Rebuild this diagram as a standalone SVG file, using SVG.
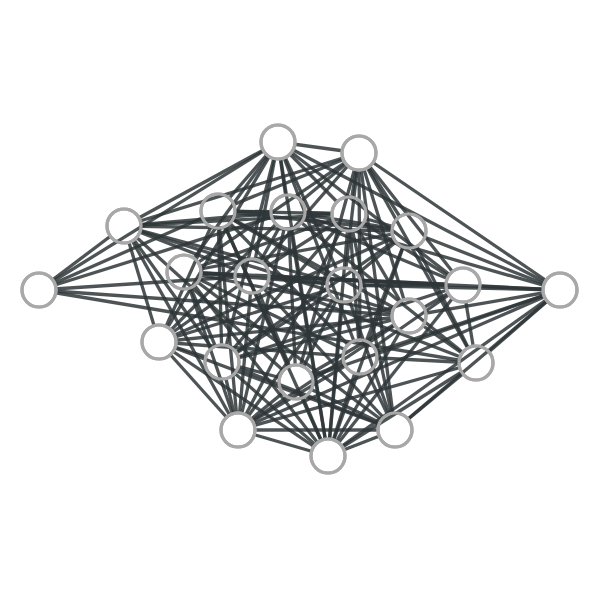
<svg xmlns="http://www.w3.org/2000/svg" width="600" height="600" viewBox="0 0 600 600">
<style>
.e line{stroke:#2f3638;stroke-width:3.3;stroke-opacity:0.85;fill:none}
.n circle{fill:#ffffff;stroke:#a8a8a8;stroke-width:3.2}
.rim circle{fill:none;stroke:#a8a8a8;stroke-width:3.2}
.mb{fill:#ffffff}
.mh{fill:#000000}
</style>
<defs>
<mask id="m0" maskUnits="userSpaceOnUse" x="0" y="0" width="600" height="600"><rect class="mb" width="600" height="600"/><circle class="mh" cx="39" cy="290" r="18.5"/></mask>
<mask id="m1" maskUnits="userSpaceOnUse" x="0" y="0" width="600" height="600"><rect class="mb" width="600" height="600"/><circle class="mh" cx="124" cy="226" r="18.5"/></mask>
<mask id="m2" maskUnits="userSpaceOnUse" x="0" y="0" width="600" height="600"><rect class="mb" width="600" height="600"/><circle class="mh" cx="278" cy="142" r="18.5"/></mask>
<mask id="m3" maskUnits="userSpaceOnUse" x="0" y="0" width="600" height="600"><rect class="mb" width="600" height="600"/><circle class="mh" cx="359" cy="153" r="18.5"/></mask>
<mask id="m4" maskUnits="userSpaceOnUse" x="0" y="0" width="600" height="600"><rect class="mb" width="600" height="600"/><circle class="mh" cx="218" cy="211" r="18.5"/></mask>
<mask id="m5" maskUnits="userSpaceOnUse" x="0" y="0" width="600" height="600"><rect class="mb" width="600" height="600"/><circle class="mh" cx="288" cy="212" r="18.5"/></mask>
<mask id="m6" maskUnits="userSpaceOnUse" x="0" y="0" width="600" height="600"><rect class="mb" width="600" height="600"/><circle class="mh" cx="349" cy="214" r="18.5"/></mask>
<mask id="m7" maskUnits="userSpaceOnUse" x="0" y="0" width="600" height="600"><rect class="mb" width="600" height="600"/><circle class="mh" cx="409" cy="231" r="18.5"/></mask>
<mask id="m8" maskUnits="userSpaceOnUse" x="0" y="0" width="600" height="600"><rect class="mb" width="600" height="600"/><circle class="mh" cx="184" cy="272" r="18.5"/></mask>
<mask id="m9" maskUnits="userSpaceOnUse" x="0" y="0" width="600" height="600"><rect class="mb" width="600" height="600"/><circle class="mh" cx="252" cy="276" r="18.5"/></mask>
<mask id="m10" maskUnits="userSpaceOnUse" x="0" y="0" width="600" height="600"><rect class="mb" width="600" height="600"/><circle class="mh" cx="344" cy="285" r="18.5"/></mask>
<mask id="m11" maskUnits="userSpaceOnUse" x="0" y="0" width="600" height="600"><rect class="mb" width="600" height="600"/><circle class="mh" cx="463" cy="285" r="18.5"/></mask>
<mask id="m12" maskUnits="userSpaceOnUse" x="0" y="0" width="600" height="600"><rect class="mb" width="600" height="600"/><circle class="mh" cx="560" cy="290" r="18.5"/></mask>
<mask id="m13" maskUnits="userSpaceOnUse" x="0" y="0" width="600" height="600"><rect class="mb" width="600" height="600"/><circle class="mh" cx="409" cy="316" r="18.5"/></mask>
<mask id="m14" maskUnits="userSpaceOnUse" x="0" y="0" width="600" height="600"><rect class="mb" width="600" height="600"/><circle class="mh" cx="159" cy="342" r="18.5"/></mask>
<mask id="m15" maskUnits="userSpaceOnUse" x="0" y="0" width="600" height="600"><rect class="mb" width="600" height="600"/><circle class="mh" cx="222" cy="362" r="18.5"/></mask>
<mask id="m16" maskUnits="userSpaceOnUse" x="0" y="0" width="600" height="600"><rect class="mb" width="600" height="600"/><circle class="mh" cx="296" cy="382" r="18.5"/></mask>
<mask id="m17" maskUnits="userSpaceOnUse" x="0" y="0" width="600" height="600"><rect class="mb" width="600" height="600"/><circle class="mh" cx="360" cy="357" r="18.5"/></mask>
<mask id="m18" maskUnits="userSpaceOnUse" x="0" y="0" width="600" height="600"><rect class="mb" width="600" height="600"/><circle class="mh" cx="476" cy="363" r="18.5"/></mask>
<mask id="m19" maskUnits="userSpaceOnUse" x="0" y="0" width="600" height="600"><rect class="mb" width="600" height="600"/><circle class="mh" cx="238" cy="430" r="18.5"/></mask>
<mask id="m20" maskUnits="userSpaceOnUse" x="0" y="0" width="600" height="600"><rect class="mb" width="600" height="600"/><circle class="mh" cx="328" cy="456" r="18.5"/></mask>
<mask id="m21" maskUnits="userSpaceOnUse" x="0" y="0" width="600" height="600"><rect class="mb" width="600" height="600"/><circle class="mh" cx="395" cy="430" r="18.5"/></mask>
</defs>
<rect width="600" height="600" fill="#ffffff"/>
<g id="nodes" class="n">
<g id="n0"><circle cx="39" cy="290" r="17"/></g>
<g id="n1"><circle cx="124" cy="226" r="17"/></g>
<g id="n2"><circle cx="278" cy="142" r="17"/></g>
<g id="n3"><circle cx="359" cy="153" r="17"/></g>
<g id="n4"><circle cx="218" cy="211" r="17"/></g>
<g id="n5"><circle cx="288" cy="212" r="17"/></g>
<g id="n6"><circle cx="349" cy="214" r="17"/></g>
<g id="n7"><circle cx="409" cy="231" r="17"/></g>
<g id="n8"><circle cx="184" cy="272" r="17"/></g>
<g id="n9"><circle cx="252" cy="276" r="17"/></g>
<g id="n10"><circle cx="344" cy="285" r="17"/></g>
<g id="n11"><circle cx="463" cy="285" r="17"/></g>
<g id="n12"><circle cx="560" cy="290" r="17"/></g>
<g id="n13"><circle cx="409" cy="316" r="17"/></g>
<g id="n14"><circle cx="159" cy="342" r="17"/></g>
<g id="n15"><circle cx="222" cy="362" r="17"/></g>
<g id="n16"><circle cx="296" cy="382" r="17"/></g>
<g id="n17"><circle cx="360" cy="357" r="17"/></g>
<g id="n18"><circle cx="476" cy="363" r="17"/></g>
<g id="n19"><circle cx="238" cy="430" r="17"/></g>
<g id="n20"><circle cx="328" cy="456" r="17"/></g>
<g id="n21"><circle cx="395" cy="430" r="17"/></g>
</g>
<g id="edges" class="e">
<g mask="url(#m0)">
<line x1="39" y1="290" x2="124" y2="226" mask="url(#m1)"/>
<line x1="39" y1="290" x2="278" y2="142" mask="url(#m2)"/>
<line x1="39" y1="290" x2="218" y2="211" mask="url(#m4)"/>
<line x1="39" y1="290" x2="288" y2="212" mask="url(#m5)"/>
<line x1="39" y1="290" x2="252" y2="276" mask="url(#m9)"/>
<line x1="39" y1="290" x2="409" y2="316" mask="url(#m13)"/>
<line x1="39" y1="290" x2="476" y2="363" mask="url(#m18)"/>
</g>
<g mask="url(#m1)">
<line x1="124" y1="226" x2="278" y2="142" mask="url(#m2)"/>
<line x1="124" y1="226" x2="359" y2="153" mask="url(#m3)"/>
<line x1="124" y1="226" x2="288" y2="212" mask="url(#m5)"/>
<line x1="124" y1="226" x2="349" y2="214" mask="url(#m6)"/>
<line x1="124" y1="226" x2="409" y2="231" mask="url(#m7)"/>
<line x1="124" y1="226" x2="252" y2="276" mask="url(#m9)"/>
<line x1="124" y1="226" x2="344" y2="285" mask="url(#m10)"/>
<line x1="124" y1="226" x2="409" y2="316" mask="url(#m13)"/>
<line x1="124" y1="226" x2="159" y2="342" mask="url(#m14)"/>
<line x1="124" y1="226" x2="222" y2="362" mask="url(#m15)"/>
<line x1="124" y1="226" x2="296" y2="382" mask="url(#m16)"/>
<line x1="124" y1="226" x2="238" y2="430" mask="url(#m19)"/>
</g>
<g mask="url(#m2)">
<line x1="278" y1="142" x2="359" y2="153" mask="url(#m3)"/>
<line x1="278" y1="142" x2="218" y2="211" mask="url(#m4)"/>
<line x1="278" y1="142" x2="288" y2="212" mask="url(#m5)"/>
<line x1="278" y1="142" x2="349" y2="214" mask="url(#m6)"/>
<line x1="278" y1="142" x2="184" y2="272" mask="url(#m8)"/>
<line x1="278" y1="142" x2="252" y2="276" mask="url(#m9)"/>
<line x1="278" y1="142" x2="344" y2="285" mask="url(#m10)"/>
<line x1="278" y1="142" x2="463" y2="285" mask="url(#m11)"/>
<line x1="278" y1="142" x2="560" y2="290" mask="url(#m12)"/>
<line x1="278" y1="142" x2="159" y2="342" mask="url(#m14)"/>
<line x1="278" y1="142" x2="222" y2="362" mask="url(#m15)"/>
<line x1="278" y1="142" x2="360" y2="357" mask="url(#m17)"/>
<line x1="278" y1="142" x2="328" y2="456" mask="url(#m20)"/>
</g>
<g mask="url(#m3)">
<line x1="359" y1="153" x2="218" y2="211" mask="url(#m4)"/>
<line x1="359" y1="153" x2="288" y2="212" mask="url(#m5)"/>
<line x1="359" y1="153" x2="349" y2="214" mask="url(#m6)"/>
<line x1="359" y1="153" x2="409" y2="231" mask="url(#m7)"/>
<line x1="359" y1="153" x2="184" y2="272" mask="url(#m8)"/>
<line x1="359" y1="153" x2="252" y2="276" mask="url(#m9)"/>
<line x1="359" y1="153" x2="344" y2="285" mask="url(#m10)"/>
<line x1="359" y1="153" x2="463" y2="285" mask="url(#m11)"/>
<line x1="359" y1="153" x2="560" y2="290" mask="url(#m12)"/>
<line x1="359" y1="153" x2="409" y2="316" mask="url(#m13)"/>
<line x1="359" y1="153" x2="296" y2="382" mask="url(#m16)"/>
<line x1="359" y1="153" x2="360" y2="357" mask="url(#m17)"/>
<line x1="359" y1="153" x2="476" y2="363" mask="url(#m18)"/>
<line x1="359" y1="153" x2="395" y2="430" mask="url(#m21)"/>
</g>
<g mask="url(#m4)">
<line x1="218" y1="211" x2="288" y2="212" mask="url(#m5)"/>
<line x1="218" y1="211" x2="349" y2="214" mask="url(#m6)"/>
<line x1="218" y1="211" x2="409" y2="231" mask="url(#m7)"/>
<line x1="218" y1="211" x2="344" y2="285" mask="url(#m10)"/>
<line x1="218" y1="211" x2="409" y2="316" mask="url(#m13)"/>
<line x1="218" y1="211" x2="159" y2="342" mask="url(#m14)"/>
<line x1="218" y1="211" x2="222" y2="362" mask="url(#m15)"/>
<line x1="218" y1="211" x2="296" y2="382" mask="url(#m16)"/>
<line x1="218" y1="211" x2="360" y2="357" mask="url(#m17)"/>
<line x1="218" y1="211" x2="238" y2="430" mask="url(#m19)"/>
<line x1="218" y1="211" x2="328" y2="456" mask="url(#m20)"/>
</g>
<g mask="url(#m5)">
<line x1="288" y1="212" x2="349" y2="214" mask="url(#m6)"/>
<line x1="288" y1="212" x2="409" y2="231" mask="url(#m7)"/>
<line x1="288" y1="212" x2="252" y2="276" mask="url(#m9)"/>
<line x1="288" y1="212" x2="463" y2="285" mask="url(#m11)"/>
<line x1="288" y1="212" x2="560" y2="290" mask="url(#m12)"/>
<line x1="288" y1="212" x2="159" y2="342" mask="url(#m14)"/>
<line x1="288" y1="212" x2="296" y2="382" mask="url(#m16)"/>
<line x1="288" y1="212" x2="476" y2="363" mask="url(#m18)"/>
<line x1="288" y1="212" x2="238" y2="430" mask="url(#m19)"/>
<line x1="288" y1="212" x2="328" y2="456" mask="url(#m20)"/>
</g>
<g mask="url(#m6)">
<line x1="349" y1="214" x2="409" y2="231" mask="url(#m7)"/>
<line x1="349" y1="214" x2="184" y2="272" mask="url(#m8)"/>
<line x1="349" y1="214" x2="252" y2="276" mask="url(#m9)"/>
<line x1="349" y1="214" x2="463" y2="285" mask="url(#m11)"/>
<line x1="349" y1="214" x2="409" y2="316" mask="url(#m13)"/>
<line x1="349" y1="214" x2="222" y2="362" mask="url(#m15)"/>
<line x1="349" y1="214" x2="360" y2="357" mask="url(#m17)"/>
<line x1="349" y1="214" x2="238" y2="430" mask="url(#m19)"/>
<line x1="349" y1="214" x2="328" y2="456" mask="url(#m20)"/>
<line x1="349" y1="214" x2="395" y2="430" mask="url(#m21)"/>
</g>
<g mask="url(#m7)">
<line x1="409" y1="231" x2="184" y2="272" mask="url(#m8)"/>
<line x1="409" y1="231" x2="344" y2="285" mask="url(#m10)"/>
<line x1="409" y1="231" x2="560" y2="290" mask="url(#m12)"/>
<line x1="409" y1="231" x2="159" y2="342" mask="url(#m14)"/>
<line x1="409" y1="231" x2="222" y2="362" mask="url(#m15)"/>
<line x1="409" y1="231" x2="360" y2="357" mask="url(#m17)"/>
<line x1="409" y1="231" x2="476" y2="363" mask="url(#m18)"/>
<line x1="409" y1="231" x2="328" y2="456" mask="url(#m20)"/>
</g>
<g mask="url(#m8)">
<line x1="184" y1="272" x2="252" y2="276" mask="url(#m9)"/>
<line x1="184" y1="272" x2="344" y2="285" mask="url(#m10)"/>
<line x1="184" y1="272" x2="463" y2="285" mask="url(#m11)"/>
<line x1="184" y1="272" x2="409" y2="316" mask="url(#m13)"/>
<line x1="184" y1="272" x2="222" y2="362" mask="url(#m15)"/>
<line x1="184" y1="272" x2="360" y2="357" mask="url(#m17)"/>
<line x1="184" y1="272" x2="238" y2="430" mask="url(#m19)"/>
<line x1="184" y1="272" x2="328" y2="456" mask="url(#m20)"/>
<line x1="184" y1="272" x2="395" y2="430" mask="url(#m21)"/>
</g>
<g mask="url(#m9)">
<line x1="252" y1="276" x2="344" y2="285" mask="url(#m10)"/>
<line x1="252" y1="276" x2="463" y2="285" mask="url(#m11)"/>
<line x1="252" y1="276" x2="560" y2="290" mask="url(#m12)"/>
<line x1="252" y1="276" x2="159" y2="342" mask="url(#m14)"/>
<line x1="252" y1="276" x2="296" y2="382" mask="url(#m16)"/>
<line x1="252" y1="276" x2="476" y2="363" mask="url(#m18)"/>
<line x1="252" y1="276" x2="238" y2="430" mask="url(#m19)"/>
<line x1="252" y1="276" x2="395" y2="430" mask="url(#m21)"/>
</g>
<g mask="url(#m10)">
<line x1="344" y1="285" x2="463" y2="285" mask="url(#m11)"/>
<line x1="344" y1="285" x2="560" y2="290" mask="url(#m12)"/>
<line x1="344" y1="285" x2="159" y2="342" mask="url(#m14)"/>
<line x1="344" y1="285" x2="222" y2="362" mask="url(#m15)"/>
<line x1="344" y1="285" x2="296" y2="382" mask="url(#m16)"/>
<line x1="344" y1="285" x2="238" y2="430" mask="url(#m19)"/>
<line x1="344" y1="285" x2="328" y2="456" mask="url(#m20)"/>
<line x1="344" y1="285" x2="395" y2="430" mask="url(#m21)"/>
</g>
<g mask="url(#m11)">
<line x1="463" y1="285" x2="560" y2="290" mask="url(#m12)"/>
<line x1="463" y1="285" x2="409" y2="316" mask="url(#m13)"/>
<line x1="463" y1="285" x2="222" y2="362" mask="url(#m15)"/>
<line x1="463" y1="285" x2="360" y2="357" mask="url(#m17)"/>
<line x1="463" y1="285" x2="476" y2="363" mask="url(#m18)"/>
<line x1="463" y1="285" x2="328" y2="456" mask="url(#m20)"/>
</g>
<g mask="url(#m12)">
<line x1="560" y1="290" x2="409" y2="316" mask="url(#m13)"/>
<line x1="560" y1="290" x2="296" y2="382" mask="url(#m16)"/>
<line x1="560" y1="290" x2="360" y2="357" mask="url(#m17)"/>
<line x1="560" y1="290" x2="476" y2="363" mask="url(#m18)"/>
<line x1="560" y1="290" x2="238" y2="430" mask="url(#m19)"/>
<line x1="560" y1="290" x2="328" y2="456" mask="url(#m20)"/>
<line x1="560" y1="290" x2="395" y2="430" mask="url(#m21)"/>
</g>
<g mask="url(#m13)">
<line x1="409" y1="316" x2="159" y2="342" mask="url(#m14)"/>
<line x1="409" y1="316" x2="222" y2="362" mask="url(#m15)"/>
<line x1="409" y1="316" x2="296" y2="382" mask="url(#m16)"/>
<line x1="409" y1="316" x2="476" y2="363" mask="url(#m18)"/>
<line x1="409" y1="316" x2="238" y2="430" mask="url(#m19)"/>
<line x1="409" y1="316" x2="328" y2="456" mask="url(#m20)"/>
</g>
<g mask="url(#m14)">
<line x1="159" y1="342" x2="222" y2="362" mask="url(#m15)"/>
<line x1="159" y1="342" x2="360" y2="357" mask="url(#m17)"/>
<line x1="159" y1="342" x2="238" y2="430" mask="url(#m19)"/>
<line x1="159" y1="342" x2="328" y2="456" mask="url(#m20)"/>
<line x1="159" y1="342" x2="395" y2="430" mask="url(#m21)"/>
</g>
<g mask="url(#m15)">
<line x1="222" y1="362" x2="296" y2="382" mask="url(#m16)"/>
<line x1="222" y1="362" x2="238" y2="430" mask="url(#m19)"/>
<line x1="222" y1="362" x2="328" y2="456" mask="url(#m20)"/>
<line x1="222" y1="362" x2="395" y2="430" mask="url(#m21)"/>
</g>
<g mask="url(#m16)">
<line x1="296" y1="382" x2="360" y2="357" mask="url(#m17)"/>
<line x1="296" y1="382" x2="238" y2="430" mask="url(#m19)"/>
<line x1="296" y1="382" x2="328" y2="456" mask="url(#m20)"/>
<line x1="296" y1="382" x2="395" y2="430" mask="url(#m21)"/>
</g>
<g mask="url(#m17)">
<line x1="360" y1="357" x2="476" y2="363" mask="url(#m18)"/>
<line x1="360" y1="357" x2="238" y2="430" mask="url(#m19)"/>
<line x1="360" y1="357" x2="328" y2="456" mask="url(#m20)"/>
<line x1="360" y1="357" x2="395" y2="430" mask="url(#m21)"/>
</g>
<g mask="url(#m18)">
<line x1="476" y1="363" x2="238" y2="430" mask="url(#m19)"/>
<line x1="476" y1="363" x2="328" y2="456" mask="url(#m20)"/>
<line x1="476" y1="363" x2="395" y2="430" mask="url(#m21)"/>
</g>
<g mask="url(#m19)">
<line x1="238" y1="430" x2="328" y2="456" mask="url(#m20)"/>
<line x1="238" y1="430" x2="395" y2="430" mask="url(#m21)"/>
</g>
<g mask="url(#m20)">
<line x1="328" y1="456" x2="395" y2="430" mask="url(#m21)"/>
</g>
</g>
<g id="node-rims" class="rim">
<circle cx="39" cy="290" r="17"/>
<circle cx="124" cy="226" r="17"/>
<circle cx="278" cy="142" r="17"/>
<circle cx="359" cy="153" r="17"/>
<circle cx="218" cy="211" r="17"/>
<circle cx="288" cy="212" r="17"/>
<circle cx="349" cy="214" r="17"/>
<circle cx="409" cy="231" r="17"/>
<circle cx="184" cy="272" r="17"/>
<circle cx="252" cy="276" r="17"/>
<circle cx="344" cy="285" r="17"/>
<circle cx="463" cy="285" r="17"/>
<circle cx="560" cy="290" r="17"/>
<circle cx="409" cy="316" r="17"/>
<circle cx="159" cy="342" r="17"/>
<circle cx="222" cy="362" r="17"/>
<circle cx="296" cy="382" r="17"/>
<circle cx="360" cy="357" r="17"/>
<circle cx="476" cy="363" r="17"/>
<circle cx="238" cy="430" r="17"/>
<circle cx="328" cy="456" r="17"/>
<circle cx="395" cy="430" r="17"/>
</g>
</svg>
